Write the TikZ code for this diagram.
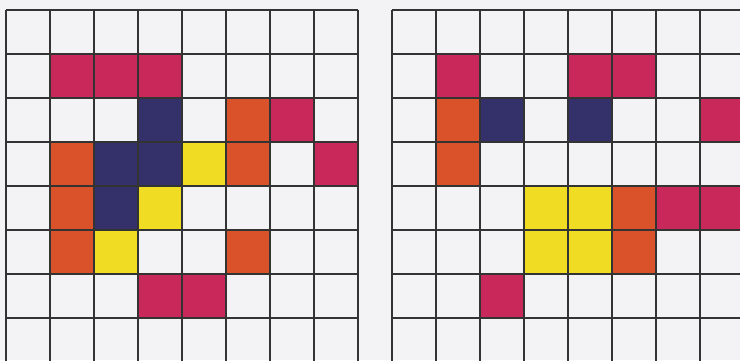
\documentclass[tikz,border=0pt]{standalone}
\usepackage[dvipsnames]{xcolor}
\usepackage{tikz}
\usetikzlibrary{backgrounds}

\definecolor{boardRed}{HTML}{C8285A}
\definecolor{boardOrange}{HTML}{D9522A}
\definecolor{boardNavy}{HTML}{33306A}
\definecolor{boardYellow}{HTML}{F0DC22}
\definecolor{boardPaper}{HTML}{F3F3F5}

\begin{document}
\begin{tikzpicture}[
  % one cell is 1cm, the page is 740x360 at 44px per cell
  boardLines/.style={draw=black!80, line width=1.3pt},
  boardCell/.style={fill=#1},
]

\useasboundingbox (0,0) rectangle (16.818,8.182);
\clip (0,0) rectangle (16.818,8.182);
\fill[boardPaper] (0,0) rectangle (16.818,8.182);

% --- Left board ---
\begin{scope}[xshift=0.136cm, yshift=-0.035cm]
\foreach \col/\row/\clr in {2/2/boardRed,3/2/boardRed,4/2/boardRed,
  4/3/boardNavy,6/3/boardOrange,7/3/boardRed,
  2/4/boardOrange,3/4/boardNavy,4/4/boardNavy,5/4/boardYellow,6/4/boardOrange,8/4/boardRed,
  2/5/boardOrange,3/5/boardNavy,4/5/boardYellow,
  2/6/boardOrange,3/6/boardYellow,6/6/boardOrange,
  4/7/boardRed,5/7/boardRed} {
  \fill[boardCell=\clr] (\col-1,8-\row) rectangle ++(1,1);
}
\draw[boardLines] (0,0) grid (8,8);
\end{scope}

% --- Right board ---
\begin{scope}[xshift=8.909cm, yshift=-0.035cm]
\foreach \col/\row/\clr in {2/2/boardRed,5/2/boardRed,6/2/boardRed,
  2/3/boardOrange,3/3/boardNavy,5/3/boardNavy,8/3/boardRed,
  2/4/boardOrange,
  4/5/boardYellow,5/5/boardYellow,6/5/boardOrange,7/5/boardRed,8/5/boardRed,
  4/6/boardYellow,5/6/boardYellow,6/6/boardOrange,
  3/7/boardRed} {
  \fill[boardCell=\clr] (\col-1,8-\row) rectangle ++(1,1);
}
\draw[boardLines] (0,0) grid (8,8);
\end{scope}

\end{tikzpicture}
\end{document}
